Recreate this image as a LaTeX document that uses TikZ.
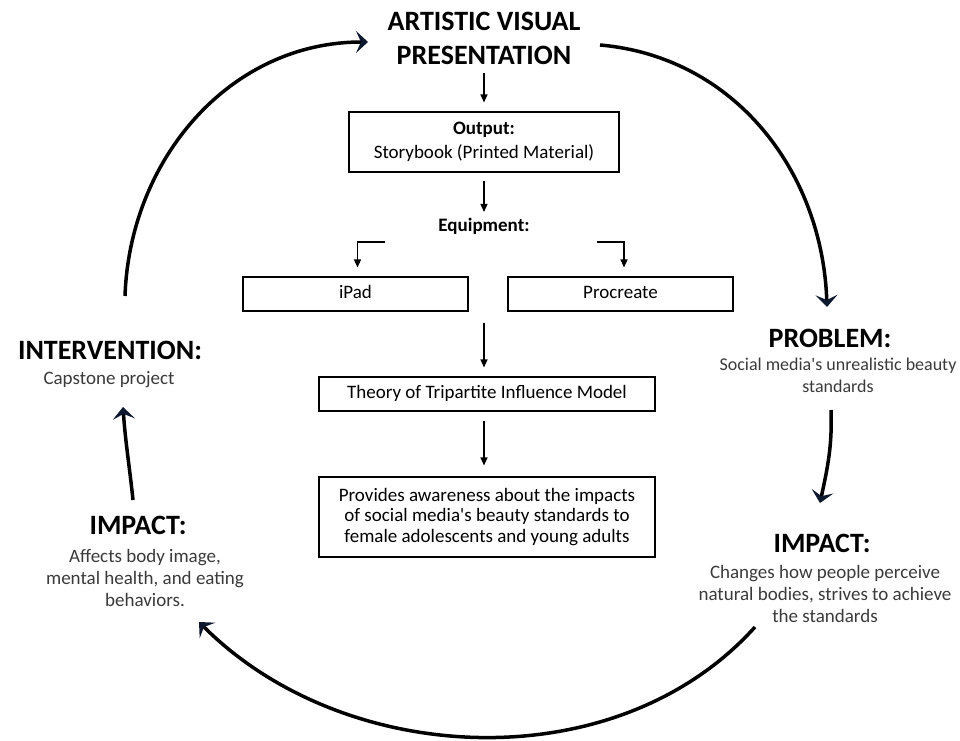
\documentclass[tikz,border=0pt]{standalone}
\usepackage{fontspec}
\setmainfont{Carlito}
\usetikzlibrary{positioning,arrows.meta}
\definecolor{headblue}{RGB}{14,24,46}
\definecolor{bodygray}{RGB}{58,58,58}
\tikzset{
  box/.style={draw,line width=1.1pt,minimum height=34pt,inner sep=2pt,align=center,font=\fontsize{19}{20.5}\selectfont},
  oneline/.style={text height=13pt,text depth=4pt},
  heading/.style={font=\fontsize{28}{32}\selectfont\bfseries},
  sidetext/.style={align=center,text=bodygray,font=\fontsize{19}{22}\selectfont},
  flow/.style={line width=1.2pt,-{Triangle[length=8pt,width=7pt]}},
  loop/.style={line width=3.5pt,-{Stealth[length=12pt,width=22pt,inset=5pt,color=headblue]}},
}
\begin{document}
\begin{tikzpicture}[x=1pt,y=1pt]
\useasboundingbox (0,0) rectangle (960,740);

% centre column
\node (title) [align=center,font=\fontsize{28}{34}\selectfont\bfseries] at (484,701.5) {ARTISTIC VISUAL\\PRESENTATION};
\node (output) [box,minimum width=270pt,minimum height=60pt,font=\fontsize{19}{24}\selectfont] at (484,598) {\textbf{Output:}\\Storybook (Printed Material)};
\node (equip) [font=\fontsize{19}{22}\selectfont\bfseries] at (484,514) {Equipment:};
\node (ipad) [box,oneline,minimum width=225pt] at (355.5,446) {iPad};
\node (procreate) [box,oneline,minimum width=225pt] at (620.5,446) {Procreate};
\node (theory) [box,oneline,minimum width=336pt] at (487,346) {Theory of Tripartite Influence Model};
\node (aware) [box,minimum width=336pt,minimum height=80pt] at (487,223) {Provides awareness about the impacts\\of social media\textquotesingle s beauty standards to\\female adolescents and young adults};

\draw[flow] ([yshift=-35pt]title.center) -- ([yshift=9pt]output.north);
\draw[flow] ([yshift=-8pt]output.south) -- ([yshift=14pt]equip.center);
\draw[flow] ([shift={(-99,-16)}]equip.center) -| ([xshift=2pt,yshift=9pt]ipad.north);
\draw[flow] ([shift={(113,-16)}]equip.center) -| ([xshift=3.5pt,yshift=9pt]procreate.north);
\draw[flow] ([yshift=-11pt]ipad.south -| output.south) -- ([yshift=9pt]theory.north -| output.south);
\draw[flow] ([yshift=-9pt]theory.south -| output.south) -- ([yshift=11pt]aware.north -| output.south);

% cycle around the page
\node (problem) [heading] at (830,402) {PROBLEM:};
\node (problemtxt) [sidetext,font=\fontsize{18}{22}\selectfont] at (838,365) {Social media\textquotesingle s unrealistic beauty\\standards};
\node (impactR) [heading] at (822,197) {IMPACT:};
\node (impactRtxt) [sidetext] at (825,146) {Changes how people perceive\\natural bodies, strives to achieve\\the standards};
\node (impactL) [heading] at (138,215) {IMPACT:};
\node (impactLtxt) [sidetext] at (145,162) {Affects body image,\\mental health, and eating\\behaviors.};
\node (interv) [heading] at (110,390) {INTERVENTION:};
\node (intervtxt) [sidetext] at (109,360) {Capstone project};

\draw[loop] ([shift={(15,54)}]interv.center) to[out=88,in=180] ([shift={(-116,-3.5)}]title.center);
\draw[loop] ([shift={(116,-6.5)}]title.center) to[out=-5,in=92] ([shift={(-3,31)}]problem.center);
\draw[loop] ([shift={(-7,-35)}]problemtxt.center) to[out=-88,in=78] ([shift={(-2,40)}]impactR.center);
\draw[loop] ([shift={(-70,-33)}]impactRtxt.center) to[out=-132,in=-45,looseness=0.95] ([shift={(54,-44)}]impactLtxt.center);
\draw[loop] ([shift={(-5,25)}]impactL.center) to[out=96,in=-86] ([shift={(14,-27)}]intervtxt.center);
\end{tikzpicture}
\end{document}
